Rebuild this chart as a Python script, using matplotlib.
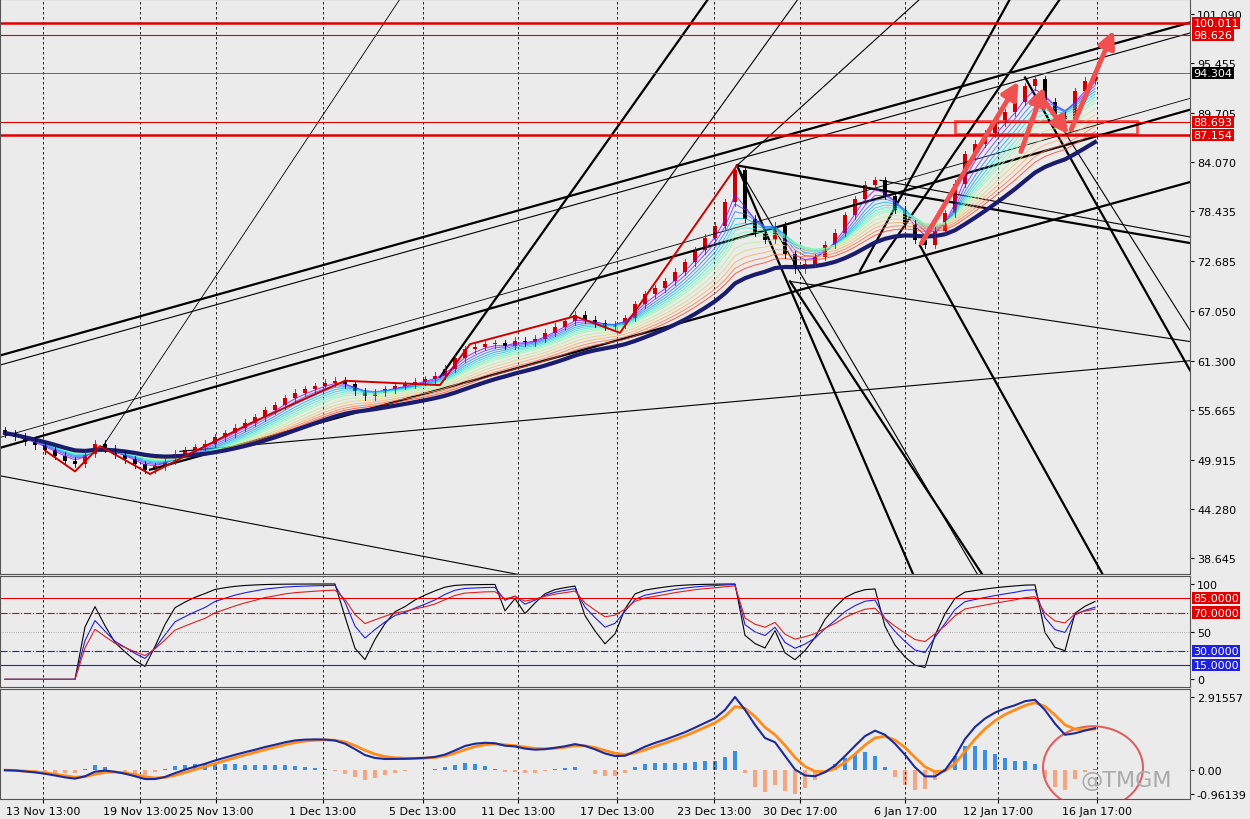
import numpy as np
import pandas as pd
import matplotlib
matplotlib.use('Agg')
import matplotlib.pyplot as plt
from matplotlib.patches import Rectangle, Ellipse

# closes, one bar per step
closes = [53.0,52.6,52.0,51.6,51.0,50.4,49.8,49.5,50.6,51.8,
          51.2,50.5,50.0,49.4,48.8,49.2,49.8,50.6,51.0,51.4,
          51.8,52.5,53.0,53.6,54.2,54.8,55.6,56.2,57.0,57.6,
          58.0,58.4,58.8,59.0,58.6,57.8,57.2,57.6,58.0,58.4,
          58.6,58.9,59.2,59.6,60.4,61.6,62.6,62.9,63.2,63.3,
          63.0,63.6,63.4,63.8,64.5,65.2,65.8,66.6,66.0,65.6,
          65.2,65.4,66.2,67.8,68.9,69.6,70.4,71.5,72.6,74.0,
          75.4,76.8,79.5,83.2,77.6,76.0,75.2,76.8,73.5,71.8,
          72.4,73.2,74.6,76.0,78.0,79.8,81.5,82.0,80.2,78.6,
          77.0,75.2,74.6,76.2,78.2,81.6,85.0,86.2,87.4,88.6,
          89.8,91.0,92.8,93.6,91.0,89.4,89.0,92.2,93.4,94.3]
date_labels = ['13 Nov 13:00','19 Nov 13:00','25 Nov 13:00','1 Dec 13:00','5 Dec 13:00',
               '11 Dec 13:00','17 Dec 13:00','23 Dec 13:00','30 Dec 17:00','6 Jan 17:00',
               '12 Jan 17:00','16 Jan 17:00']
date_pos = [3.8,13.5,21.1,31.8,41.8,51.3,61.2,70.9,79.5,90.0,99.3,109.2]
price_ticks = [101.090,95.455,89.705,84.070,78.435,72.685,67.050,61.300,55.665,49.915,44.280,38.645]
levels_red = [100.011, 98.626, 88.693, 87.154]
level_last = 94.304
# trendlines: (x0, p0, x1, p1, width)
trend_lines = [(-0.5,61.9,118.5,100.1,1.6),(-0.5,60.8,118.5,98.9,0.8),
               (-0.5,51.3,118.5,90.1,1.6),(-0.5,52.5,118.5,91.4,0.6),
               (14.5,48.8,118.5,81.8,1.6),(17.5,50.9,118.5,61.3,0.8),
               (43.5,59.4,70.5,103.1,1.6),(9.5,51.0,39.5,102.8,0.6),
               (56.5,66.4,79.5,103.1,0.8),(73.2,83.7,91.5,102.8,0.8),
               (85.5,71.6,100.5,102.8,1.6),(87.5,72.7,105.5,102.8,1.6),
               (73.2,83.7,91.0,36.3,1.6),(73.2,83.7,97.5,36.3,0.8),
               (78.5,70.4,98.0,36.3,1.6),(91.5,74.5,110.0,36.3,1.6),
               (102.0,93.8,118.5,60.2,1.6),(103.5,92.0,118.5,64.8,0.8),
               (73.2,83.7,118.5,74.8,1.6),(87.5,82.0,118.5,75.5,0.8),
               (-0.5,48.1,53.5,36.3,0.8),(78.5,70.4,118.5,63.5,0.8)]
zigzag_x = [4,7,9.5,14.5,24.5,34,43.5,46.5,57,61.5,73.2]
zigzag_p = [51.0,48.6,51.5,48.3,54.1,59.0,58.5,63.2,66.4,64.5,83.7]
arrows = [(91.5,74.5,101.5,93.6),(101.5,85.0,104.0,93.0),(103.5,91.8,106.5,87.0),(106.5,87.5,111.0,99.5)]

c = np.array(closes)
n = len(c)
x = np.arange(n)
opens = np.r_[c[0] + 0.3, c[:-1]]
s = pd.Series(c)

bg = '#ebebeb'
fig = plt.figure(figsize=(12.5, 8.2), dpi=100)
fig.patch.set_facecolor(bg)
ax = fig.add_axes([0.0, 0.299, 0.952, 0.701])
ax2 = fig.add_axes([0.0, 0.161, 0.952, 0.135])
ax3 = fig.add_axes([0.0, 0.024, 0.952, 0.134])
for a in (ax, ax2, ax3):
    a.set_facecolor(bg)
    a.set_xlim(-0.5, 118.5)
    a.yaxis.tick_right()
    a.tick_params(axis='y', labelsize=8, length=3, pad=2)
    for xp in date_pos:
        a.axvline(xp, color='black', ls=(0, (3, 3)), lw=0.6)
    for sp in a.spines.values():
        sp.set_color('#555555')

# main price
ax.set_ylim(36.85, 102.8)
ax.set_yticks(price_ticks)
ax.set_yticklabels(['%.3f' % p for p in price_ticks])
ax.set_xticks([])
for x0, p0, x1, p1, w in trend_lines:
    ax.plot([x0, x1], [p0, p1], color='black', lw=w)
cmap = plt.get_cmap('rainbow')
periods = [3, 4, 5, 6, 7, 8, 9, 10, 12, 14, 16, 18, 20]
for k, per in enumerate(periods):
    ax.plot(x, s.ewm(span=per).mean(), color=cmap(k / len(periods)), lw=0.7, alpha=0.8)
ax.plot(x, s.ewm(span=24).mean(), color='#1c1c6e', lw=3)
for i in range(n):
    up = c[i] >= opens[i]
    col = '#cc0000' if up else 'black'
    lo, hi = min(c[i], opens[i]), max(c[i], opens[i])
    ax.plot([x[i], x[i]], [lo - 0.4, hi + 0.4], color=col, lw=0.6)
    ax.add_patch(Rectangle((x[i] - 0.18, lo), 0.36, max(hi - lo, 0.1), color=col, lw=0))
for lv in levels_red:
    ax.axhline(lv, color='#e00000', lw=1.8 if lv in (100.011, 87.154) else 0.8)
ax.axhline(level_last, color='#3050c0', lw=0.6)
ax.plot(zigzag_x, zigzag_p, color='#cc0000', lw=1.4)
for x0, p0, x1, p1 in arrows:
    ax.annotate('', xy=(x1, p1), xytext=(x0, p0),
                arrowprops=dict(arrowstyle='-|>,head_width=0.5,head_length=1', color='#f05050', lw=3.5))
ax.add_patch(Rectangle((95.0, 87.3), 18.2, 1.5, fill=False, ec='#f05050', lw=2))
for lv in levels_red:
    ax.text(1.003, lv, '%.3f' % lv, transform=ax.get_yaxis_transform(), va='center', ha='left',
            fontsize=8, color='white', bbox=dict(fc='#e00000', ec='none', pad=0.8))
ax.text(1.003, level_last, '%.3f' % level_last, transform=ax.get_yaxis_transform(), va='center',
        ha='left', fontsize=8, color='white', bbox=dict(fc='black', ec='none', pad=0.8))

# oscillator panel
def rsi(series, per):
    d = series.diff()
    d.iloc[0] = d.iloc[1]
    g = d.clip(lower=0).ewm(alpha=1 / per).mean()
    l = (-d.clip(upper=0)).ewm(alpha=1 / per).mean()
    return 100 - 100 / (1 + g / (l + 1e-9))
ax2.set_ylim(-8, 108)
ax2.set_yticks([100, 50, 0])
ax2.set_xticks([])
ax2.plot(x, rsi(s, 3), color='black', lw=0.8)
ax2.plot(x, rsi(s, 5), color='#2020e0', lw=0.8)
ax2.plot(x, rsi(s, 8), color='#e02020', lw=0.8)
ax2.axhline(85, color='#e00000', lw=0.8)
ax2.axhline(70, color='#e00000', lw=0.8, ls='-.')
ax2.axhline(50, color='#999999', lw=0.6, ls=':')
ax2.axhline(30, color='#2020e0', lw=0.8, ls='-.')
ax2.axhline(15, color='#2020e0', lw=0.8)
for lv, col in [(85, '#e00000'), (70, '#e00000'), (30, '#2020e0'), (15, '#2020e0')]:
    ax2.text(1.003, lv, '%.4f' % lv, transform=ax2.get_yaxis_transform(), va='center', ha='left',
             fontsize=8, color='white', bbox=dict(fc=col, ec='none', pad=0.8))

# macd panel
fast = s.ewm(span=5).mean() - s.ewm(span=13).mean()
fast = fast / fast.std() * 0.8
sig = fast.ewm(span=3).mean()
hist = fast - sig
ax3.bar(x, hist * 2, width=0.4, color=np.where(hist >= 0, '#3a8ee6', '#f4a582'))
ax3.plot(x, sig, color='#ff8c1a', lw=2)
ax3.plot(x, fast, color='#1c2a9a', lw=1.5)
lo, hi = min(fast.min(), (hist * 2).min()), max(fast.max(), (hist * 2).max())
ax3.set_ylim(lo - 0.2, hi + 0.3)
ax3.set_yticks([hi, 0, lo])
ax3.set_yticklabels(['%.5f' % hi, '0.00', '%.5f' % lo])
ax3.set_xticks(date_pos)
ax3.set_xticklabels(date_labels, fontsize=8)
ax3.tick_params(axis='x', length=3, pad=2)
ax3.add_patch(Ellipse((108.8, 0.1), 10, (hi - lo) * 0.85, fill=False, ec='#e06060', lw=1.5))
ax3.text(0.985, 0.12, '@TMGM', transform=ax3.transAxes, ha='right', fontsize=16, color='#aaaaaa')

fig.savefig('out.png', dpi=100, facecolor=bg)
